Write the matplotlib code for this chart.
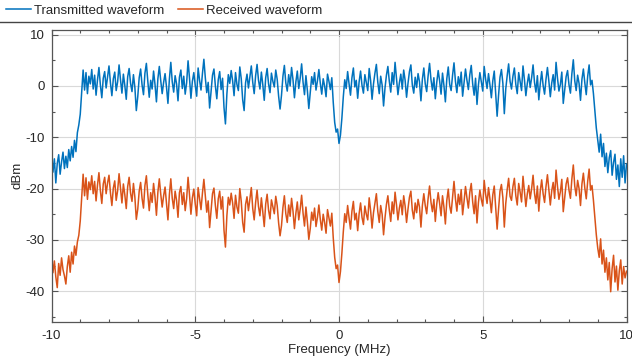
import matplotlib
matplotlib.use("Agg")
import matplotlib.pyplot as plt
import numpy as np
from matplotlib.lines import Line2D
from matplotlib.ticker import MultipleLocator

plt.rcParams["font.family"] = ["Liberation Sans", "DejaVu Sans"]
plt.rcParams["axes.unicode_minus"] = False

# frequency axis, MHz (0.05 MHz bins)
freq_mhz = np.linspace(-10, 10, 401)

# power spectrum, dBm
transmitted_dbm = [
    -13.5, -16.8, -14.2, -18.9, -15.1, -13.4, -17.2, -14.8, -12.9, -16.1, -13.7, -15.9, -12.4, -14.6, -11.8, -13.9, -10.6, -12.8, -9.1, -7.6,
    -5.5, -1.2, 3.1, -0.8, 2.6, -1.5, 1.9, 0.4, 3.2, -0.6, 2.1, -1.8, 1.2, 3.6, 0.2, -2.3, 1.5, 2.8, -0.4, 1.7,
    3.9, 0.6, -1.9, 1.4, 2.7, -0.9, 0.8, 4.1, 1.2, -1.4, 2.3, 0.1, -2.6, 1.8, 3.4, 0.5, -1.1, 2.2, -0.3, -4.8,
    -2.1, 1.6, 3.3, 0.2, -1.7, 2.5, 4.4, 0.9, -2.2, 1.1, -0.6, 2.9, 0.3, -3.1, 1.4, 3.8, 1.0, -1.5, 0.7, 2.4,
    -0.2, -3.4, 1.3, 4.6, 0.8, -1.2, 2.0, 0.4, -2.9, 1.7, 3.1, -0.5, 1.9, -1.6, 0.6, 4.9, 1.5, -2.4, 0.9, 2.6,
    0.1, -2.0, 3.5, 1.1, -0.8, 2.4, 5.2, 1.6, -1.3, 0.7, -4.3, -1.0, 2.1, 3.3, 0.0, -2.5, 1.2, 2.8, -0.7, 1.5,
    -4.2, -7.4, -1.6, 2.2, 0.5, 3.0, 1.0, -1.9, 2.6, 0.3, -0.9, 3.7, 1.4, -2.7, -4.8, 0.6, 2.3, -0.4, 1.8, 3.9,
    0.7, -1.5, 2.0, 4.2, 1.1, -0.6, 2.7, 0.2, -2.8, 1.6, 3.4, 0.4, -1.3, 2.5, 0.9, -0.2, 3.1, 1.3, -2.0, -4.5,
    -1.8, 1.9, 4.0, 0.6, -1.0, 2.2, 0.0, 3.6, 1.2, -2.3, 0.8, 2.9, -0.5, 1.5, 4.3, 0.7, -1.7, 2.0, -0.9, -4.4,
    -1.2, 1.8, 0.3, 2.6, -0.8, 1.0, 3.2, 0.5, -1.6, 1.4, 0.0, -2.1, 2.3, 0.9, -0.7, 1.6, -3.2, -7.1, -9.0, -8.4,
    -11.2, -9.6, -6.3, -2.1, 1.2, -0.5, 2.8, 0.4, -1.8, 1.6, 3.5, -0.2, 1.1, -2.4, 0.8, 2.9, 0.1, -1.4, 2.2, 0.6,
    -0.9, 3.4, 1.0, -2.6, 0.4, 2.5, 4.2, 0.7, -1.5, 1.9, 0.2, -3.9, -0.4, 2.1, 3.8, 0.9, -1.2, 2.6, 0.3, 4.6,
    1.4, -1.7, 0.6, 2.3, -0.6, 3.1, 1.1, -2.2, 0.5, 2.8, 4.1, 0.2, -1.4, 1.7, -0.3, 2.4, 0.8, -2.9, 1.3, 3.5,
    0.4, -1.1, 2.0, 4.4, 1.2, -0.8, 1.6, -2.5, 0.7, 3.0, 1.0, -1.6, 2.5, 0.1, -3.1, 1.4, 3.7, 0.3, -0.9, 2.1,
    4.5, 0.9, -1.3, 1.8, 0.0, 2.7, -2.0, 0.6, 3.3, 1.1, -0.7, 2.2, 4.0, 0.4, -1.8, 1.5, -3.6, 0.2, 2.6, 0.8,
    -1.0, 3.8, 1.3, -0.5, 2.4, 0.2, -2.3, 1.0, 2.9, -1.4, -5.9, -1.8, 1.7, 3.2, 0.5, -5.4, -0.6, 2.0, 4.3, 0.9,
    -0.6, 1.9, 3.5, 0.3, -1.5, 2.6, 0.8, -0.9, 3.9, 1.2, -1.9, 0.5, 2.3, -0.3, 1.6, 4.1, 0.7, -1.2, 2.0, -2.7,
    0.4, 2.8, 0.1, -1.6, 1.3, 3.6, 0.9, -2.1, 0.6, 2.2, -0.8, 4.6, 1.5, -1.0, 0.3, 2.7, -3.4, -0.7, 1.8, 3.0,
    0.2, -1.4, 2.4, 5.1, 1.0, -0.9, 2.1, 0.5, -2.8, 1.3, 3.3, 0.6, -1.7, 1.9, 4.1, 0.2, 1.1, -1.5, -4.8, -8.2,
    -10.6, -12.9, -9.4, -13.8, -11.2, -15.7, -13.1, -16.9, -14.0, -12.6, -17.4, -14.9, -13.3, -18.2, -15.4, -19.6, -14.2, -17.8, -13.6, -18.9,
    -15.2,
]

received_dbm = [
    -32.8, -36.4, -34.1, -37.2, -39.3, -34.6, -36.9, -33.5, -35.8, -37.0, -38.6, -35.2, -33.1, -36.3, -32.4, -34.7, -31.2, -33.0, -30.4, -29.1,
    -26.3, -21.9, -17.2, -21.4, -17.9, -22.1, -18.7, -20.2, -17.5, -21.0, -18.6, -22.4, -19.3, -16.9, -20.4, -22.9, -19.1, -17.8, -21.0, -18.9,
    -17.4, -20.8, -23.3, -19.9, -18.5, -22.3, -20.4, -17.1, -20.0, -22.8, -19.1, -21.2, -23.9, -19.6, -17.8, -20.9, -22.5, -19.0, -21.7, -26.0,
    -24.0, -20.5, -18.8, -21.9, -23.8, -19.4, -17.5, -21.2, -24.3, -20.8, -22.7, -19.0, -21.6, -25.2, -20.7, -18.1, -21.1, -23.6, -21.4, -19.7,
    -22.9, -26.1, -21.2, -18.1, -21.9, -23.9, -20.5, -22.3, -25.6, -20.8, -19.6, -23.1, -20.8, -24.3, -22.0, -17.8, -21.2, -25.0, -21.8, -20.1,
    -23.0, -25.3, -19.8, -22.0, -24.1, -20.9, -18.2, -21.5, -24.6, -22.4, -27.6, -24.3, -21.0, -19.9, -23.3, -25.8, -22.0, -20.5, -24.0, -21.6,
    -28.1, -31.4, -25.3, -21.7, -23.2, -20.9, -22.8, -25.8, -21.3, -23.6, -24.8, -20.0, -22.5, -26.6, -28.5, -23.1, -21.6, -24.3, -22.0, -19.8,
    -23.9, -26.1, -22.7, -20.3, -23.5, -25.3, -21.8, -24.5, -27.4, -23.0, -21.1, -24.2, -25.9, -22.2, -23.6, -24.9, -21.5, -23.3, -26.7, -29.2,
    -27.2, -23.7, -21.4, -24.9, -26.6, -23.2, -25.4, -21.9, -24.4, -27.8, -24.8, -22.6, -26.1, -24.0, -21.3, -24.8, -27.3, -23.6, -26.5, -29.9,
    -27.8, -24.6, -26.2, -23.8, -27.4, -25.6, -23.2, -26.0, -28.1, -25.0, -26.6, -28.7, -24.1, -25.7, -27.3, -24.8, -29.6, -33.4, -35.6, -34.9,
    -38.3, -36.2, -32.6, -28.4, -24.9, -26.6, -23.3, -25.7, -27.9, -24.4, -22.5, -26.1, -24.8, -28.2, -24.9, -22.8, -25.6, -27.0, -23.4, -25.0,
    -26.1, -21.8, -24.3, -27.7, -24.7, -22.8, -21.0, -24.5, -26.6, -23.3, -25.0, -29.0, -25.7, -23.1, -21.4, -24.2, -26.4, -22.6, -24.9, -20.7,
    -23.2, -26.1, -23.8, -22.3, -25.1, -21.4, -23.4, -26.6, -24.0, -21.7, -20.5, -24.2, -25.9, -22.8, -24.7, -22.1, -23.6, -27.5, -23.3, -21.0,
    -23.3, -24.9, -21.9, -19.5, -22.7, -24.5, -22.1, -26.4, -23.0, -20.8, -22.9, -25.3, -21.4, -23.6, -26.9, -22.3, -20.1, -23.4, -24.8, -21.6,
    -18.6, -22.0, -24.4, -21.1, -23.1, -20.2, -25.1, -22.5, -19.6, -21.8, -23.8, -20.7, -19.0, -22.6, -24.9, -21.4, -26.7, -22.7, -20.3, -22.1,
    -23.4, -18.4, -21.1, -22.9, -19.8, -22.0, -24.7, -21.2, -19.5, -23.8, -27.9, -24.0, -20.5, -19.2, -21.8, -27.5, -22.9, -20.2, -18.0, -21.5,
    -22.3, -19.6, -18.0, -21.4, -23.2, -19.0, -20.7, -22.6, -17.6, -20.5, -23.5, -21.0, -19.4, -22.0, -20.0, -17.4, -20.9, -22.9, -19.5, -24.4,
    -20.5, -18.3, -21.0, -22.7, -19.6, -17.3, -20.2, -23.2, -20.4, -18.8, -21.9, -16.4, -19.6, -22.1, -20.6, -18.2, -24.5, -21.8, -19.1, -17.9,
    -20.3, -21.9, -18.1, -15.4, -19.5, -21.4, -18.4, -20.0, -23.3, -19.1, -17.0, -19.9, -22.0, -18.6, -16.2, -20.3, -19.4, -22.3, -25.6, -29.0,
    -31.6, -33.4, -29.8, -34.7, -32.0, -36.3, -33.5, -37.8, -34.4, -40.1, -35.6, -33.0, -38.2, -35.1, -39.8, -36.0, -33.9, -38.6, -35.2, -37.4,
    -36.1,
]

LABELS = ["Transmitted waveform", "Received waveform"]
COLORS = ["#0072BD", "#D95319"]
TEXT = "#262626"
AX_EDGE = "#555555"

fig = plt.figure(figsize=(6.32, 3.58), dpi=100)
ax = fig.add_axes([51.5 / 632, 1 - 322 / 358, 575 / 632, (322 - 29.5) / 358])

ax.plot(freq_mhz, transmitted_dbm, color=COLORS[0], lw=1.1)
ax.plot(freq_mhz, received_dbm, color=COLORS[1], lw=1.1)

ax.set_xlim(-10, 10)
ax.set_ylim(-46, 11)
ax.xaxis.set_major_locator(MultipleLocator(5))
ax.xaxis.set_minor_locator(MultipleLocator(1))
ax.yaxis.set_major_locator(MultipleLocator(10))
ax.yaxis.set_minor_locator(MultipleLocator(5))
ax.tick_params(which="both", direction="in", top=True, right=True,
               colors=AX_EDGE, labelcolor=TEXT, labelsize=9.5, width=0.8)
ax.tick_params(which="major", length=4)
ax.tick_params(which="minor", length=2.5)
ax.tick_params(axis="x", which="major", pad=6)
ax.tick_params(axis="y", which="major", pad=5)
ax.grid(True, which="major", color="#d9d9d9", lw=0.8)
ax.set_axisbelow(True)
for s in ax.spines.values():
    s.set_color(AX_EDGE)
    s.set_linewidth(0.9)

ax.set_xlabel("Frequency (MHz)", fontsize=9.5, color=TEXT, labelpad=1)
ax.set_ylabel("dBm", fontsize=9.5, color=TEXT, labelpad=1)

# horizontal legend strip above the axes
handles = [Line2D([], [], color=c, lw=1.1) for c in COLORS]
fig.legend(handles, LABELS, loc="upper left", bbox_to_anchor=(3 / 632, 1 - 2 / 358),
           ncol=2, frameon=False, fontsize=9.5, handlelength=1.9,
           handletextpad=0.25, columnspacing=1.05, borderaxespad=0.0,
           borderpad=0.2, labelcolor=TEXT)
fig.add_artist(Line2D([0, 1], [1 - 21.5 / 358] * 2, transform=fig.transFigure,
                      color="#444444", lw=1.0))

fig.savefig("out.png", dpi=100, facecolor="white")
